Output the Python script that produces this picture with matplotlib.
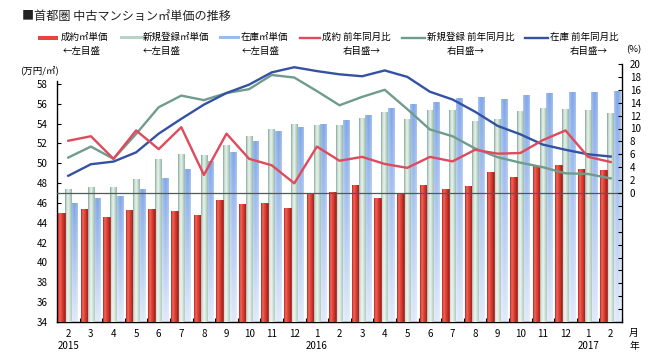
import numpy as np
import matplotlib
matplotlib.use('Agg')
import matplotlib.pyplot as plt
from matplotlib.lines import Line2D
from matplotlib.patches import Rectangle
from matplotlib.colors import LinearSegmentedColormap
from matplotlib.transforms import blended_transform_factory

plt.rcParams['font.family'] = ['Noto Sans CJK JP', 'DejaVu Sans']

# ---------------- data ----------------
months = ['2', '3', '4', '5', '6', '7', '8', '9', '10', '11', '12', '1',
          '2', '3', '4', '5', '6', '7', '8', '9', '10', '11', '12', '1', '2']
year_labels = ['2015', '', '', '', '', '', '', '', '', '', '', '2016',
               '', '', '', '', '', '', '', '', '', '', '', '2017', '']

contract_price = [45.0, 45.4, 44.6, 45.3, 45.4, 45.2, 44.8, 46.3, 45.9, 46.0, 45.5, 47.0,
                  47.15, 47.8, 46.5, 47.0, 47.8, 47.4, 47.7, 49.1, 48.6, 49.7, 49.8, 49.45, 49.35]
new_price = [47.4, 47.6, 47.6, 48.4, 50.4, 50.9, 50.8, 51.8, 52.75, 53.4, 53.95, 53.9,
             53.9, 54.6, 55.2, 54.5, 55.4, 55.4, 54.3, 54.5, 55.3, 55.55, 55.45, 55.35, 55.05]
stock_price = [45.95, 46.45, 46.7, 47.4, 48.55, 49.4, 50.25, 51.15, 52.2, 53.25, 53.7, 53.95,
               54.35, 54.85, 55.6, 55.95, 56.2, 56.6, 56.65, 56.45, 56.9, 57.1, 57.2, 57.2, 57.3]

contract_yoy = [8.1, 8.8, 5.3, 9.7, 6.8, 10.2, 2.8, 9.2, 5.3, 4.3, 1.5, 7.2,
                5.0, 5.6, 4.5, 3.9, 5.6, 4.9, 6.7, 6.1, 6.2, 8.2, 9.7, 5.6, 4.8]
new_yoy = [5.5, 7.2, 5.3, 9.15, 13.3, 15.1, 14.4, 15.5, 16.1, 18.3, 17.9, 15.8,
           13.6, 14.9, 16.0, 13.0, 9.85, 8.8, 6.9, 5.55, 4.7, 4.0, 3.05, 2.95, 2.26]
stock_yoy = [2.67, 4.46, 4.87, 6.3, 9.2, 11.5, 13.7, 15.5, 16.8, 18.7, 19.5, 18.9,
             18.4, 18.1, 19.0, 18.0, 15.7, 14.5, 12.6, 10.4, 9.1, 7.5, 6.7, 6.0, 5.65]

legend_labels = [('成約㎡単価', '←左目盛'), ('新規登録㎡単価', '←左目盛'), ('在庫㎡単価', '←左目盛'),
                 ('成約 前年同月比', '右目盛→'), ('新規登録 前年同月比', '右目盛→'), ('在庫 前年同月比', '右目盛→')]

# ---------------- styling ----------------
W, H = 671, 360
fig = plt.figure(figsize=(W / 100, H / 100), dpi=100)
fig.patch.set_facecolor('white')

def fx(px):
    return px / W

def fy(py):
    return 1 - py / H

ax = fig.add_axes([fx(57), fy(322), (622 - 57) / W, (322 - 64) / H])
ax2 = ax.twinx()

x = np.arange(len(months))
bw = 0.29

red_prof = LinearSegmentedColormap.from_list('r', ['#b3261f', '#f06a5c', '#e6463a', '#c9362c', '#a51f1a'])(np.linspace(0, 1, 32))[:, :3]
grn_prof = LinearSegmentedColormap.from_list('g', ['#7fa594', '#cfe3d8', '#e6f0ea', '#b9d3c5', '#93b6a6'])(np.linspace(0, 1, 32))[:, :3]
blu_prof = LinearSegmentedColormap.from_list('b', ['#a9c4f0', '#8fb2ec', '#7ea5e8', '#8eb0ea', '#a5c0ee'])(np.linspace(0, 1, 32))[:, :3]

def grad_img(prof, fade, ny=64):
    t = np.linspace(0, 1, ny)[:, None, None]
    return np.clip(prof[None, :, :] * (1 - fade * t) + fade * t, 0, 1)

def grad_bars(bars, prof, fade, z):
    img = grad_img(prof, fade)
    for b in bars:
        x0, y0 = b.get_x(), b.get_y()
        x1, y1 = x0 + b.get_width(), y0 + b.get_height()
        im = ax.imshow(img, extent=[x0, x1, y0, y1], origin='upper', aspect='auto',
                       zorder=z, interpolation='bilinear')
        im.set_clip_path(b)

b_red = ax.bar(x - 0.31, [v - 34 for v in contract_price], bw, bottom=34,
               color='#e6463a', edgecolor='#9a1c18', linewidth=0.5, zorder=3)
b_grn = ax.bar(x, [v - 34 for v in new_price], bw, bottom=34,
               color='#c4dccf', edgecolor='none', zorder=2.5)
b_blu = ax.bar(x + 0.28, [v - 34 for v in stock_price], bw, bottom=34,
               color='#8fb2ec', edgecolor='none', zorder=2)
grad_bars(b_blu, blu_prof, 0.75, 2.05)
grad_bars(b_grn, grn_prof, 0.3, 2.55)
grad_bars(b_red, red_prof, 0.0, 3.05)

ax.set_xlim(-0.5, len(months) - 0.5)
ax.set_ylim(34, 60)
ax2.set_ylim(-20, 20)

ax2.axhline(0, color='#4f5a5a', lw=0.9, zorder=1)
ax2.plot(x, new_yoy, color='#6f9c8c', lw=1.7, zorder=4)
ax2.plot(x, stock_yoy, color='#3452a3', lw=1.7, zorder=5)
ax2.plot(x, contract_yoy, color='#df4a5c', lw=1.7, zorder=6)

# axes / ticks
for a in (ax, ax2):
    a.spines['top'].set_visible(False)
ax.spines['right'].set_visible(False)
ax2.spines['left'].set_visible(False)
ax2.spines['bottom'].set_visible(False)
ax.spines['left'].set_bounds(34, 58.25)
for s in ('left', 'bottom'):
    ax.spines[s].set_linewidth(1.0)
ax2.spines['right'].set_linewidth(1.0)

ax.set_yticks(np.arange(34, 59, 2))
ax.tick_params(axis='y', direction='in', length=3, width=0.8, labelsize=7, pad=7)
ax2.set_yticks(np.arange(-20, 21, 2))
ax2.set_yticklabels([str(v) if v >= 0 else '' for v in range(-20, 21, 2)])
ax2.tick_params(axis='y', direction='in', length=3, width=0.8, labelsize=7, pad=5.5)

ax.set_xticks(x)
ax.set_xticklabels(months)
ax.set_xticks(np.arange(-0.5, len(months), 1), minor=True)
ax.tick_params(axis='x', which='major', length=0, labelsize=7, pad=5)
ax.tick_params(axis='x', which='minor', direction='in', length=3, width=0.8)

trans = blended_transform_factory(ax.transData, ax.transAxes)
for i, yl in enumerate(year_labels):
    if yl:
        ax.annotate(yl, xy=(i, 0), xycoords=trans, xytext=(0, -24), textcoords='offset pixels',
                    ha='center', va='center', fontsize=7)

fig.text(fx(634), fy(333), '月', fontsize=7, ha='center', va='center')
fig.text(fx(634), fy(346), '年', fontsize=7, ha='center', va='center')

# title and unit labels
fig.text(fx(22), fy(16), '■首都圏 中古マンション㎡単価の推移', fontsize=8.7, ha='left', va='center', color='#222222')
fig.text(fx(20), fy(70), '(万円/㎡)', fontsize=6.8, ha='left', va='center')
fig.text(fx(626), fy(50), '(%)', fontsize=6.8, ha='left', va='center')

# legend (manual)
row1, row2 = 37.5, 51
handles = [('rect', '#e6463a', 38, 58, 4), ('rect', '#b9d3c5', 120, 146, 3.5), ('rect', '#9dbbee', 219, 240, 2.5),
           ('line', '#df4a5c', 300, 320, 1.7), ('line', '#6f9c8c', 402, 425, 1.7), ('line', '#3452a3', 525, 548, 1.7)]
text_x = [61, 143, 241, 322, 427, 550]
sub_x = [63, 143, 242, 343, 447, 570]
for (kind, col, x0, x1, hpx), tx, sx, (l1, l2) in zip(handles, text_x, sub_x, legend_labels):
    if kind == 'rect':
        fig.patches.append(Rectangle((fx(x0), fy(row1 + hpx / 2)), (x1 - x0) / W, hpx / H,
                                     transform=fig.transFigure, facecolor=col, edgecolor='none'))
    else:
        fig.add_artist(Line2D([fx(x0), fx(x1)], [fy(row1), fy(row1)], color=col, lw=hpx,
                              transform=fig.transFigure))
    fig.text(fx(tx), fy(row1), l1, fontsize=6.8, ha='left', va='center')
    fig.text(fx(sx), fy(row2), l2, fontsize=6.8, ha='left', va='center')

fig.savefig('out.png', dpi=100)
